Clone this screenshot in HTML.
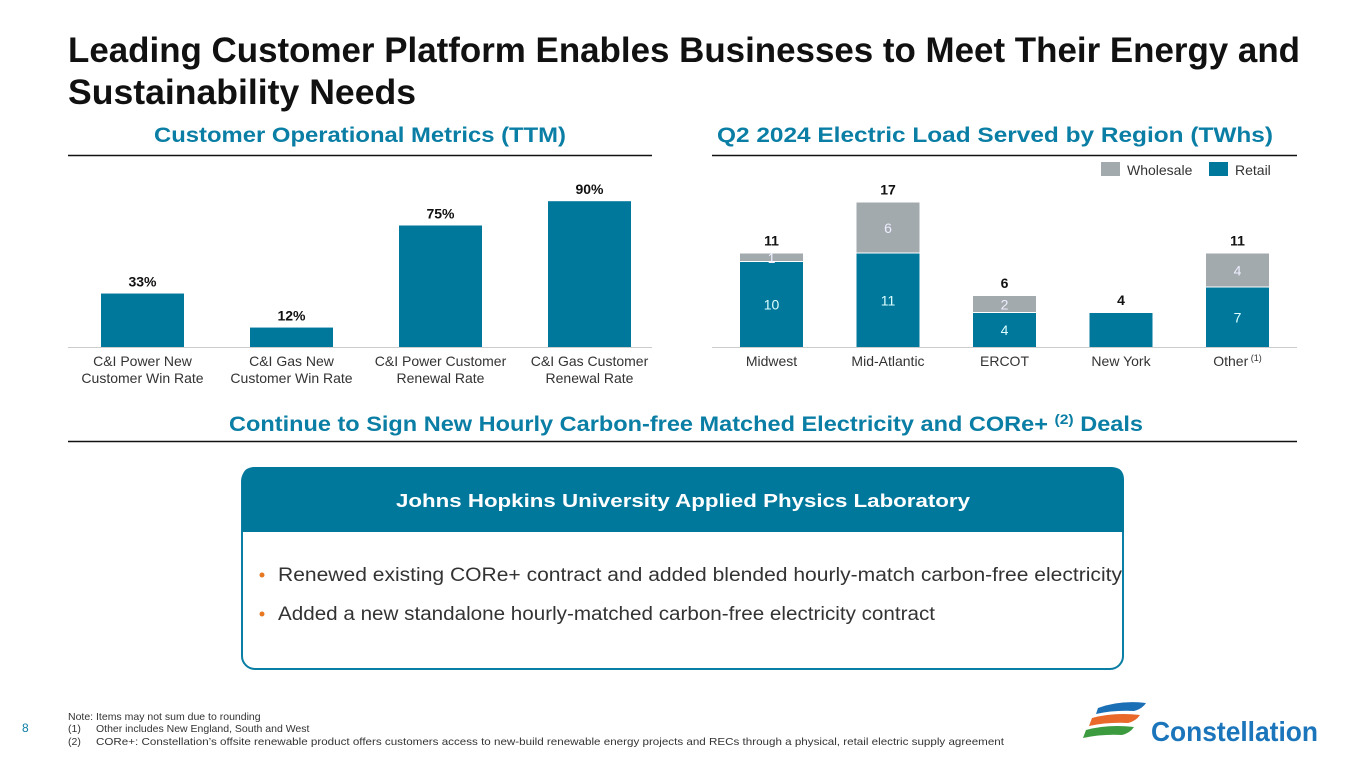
<!DOCTYPE html>
<html><head><meta charset="utf-8"><style>
html,body{margin:0;padding:0;background:#fff;}
svg{display:block;font-family:"Liberation Sans",sans-serif;}
</style></head><body>
<svg id="s" width="1365" height="768" viewBox="0 0 1365 768" xmlns="http://www.w3.org/2000/svg">
<text x="68" y="62" font-size="35" font-weight="bold" fill="#111" textLength="1232" lengthAdjust="spacingAndGlyphs">Leading Customer Platform Enables Businesses to Meet Their Energy and</text>
<text x="68" y="104" font-size="35" font-weight="bold" fill="#111" textLength="348" lengthAdjust="spacingAndGlyphs">Sustainability Needs</text>

<text x="154" y="142" font-size="21" font-weight="bold" fill="#0a7ea4" textLength="412" lengthAdjust="spacingAndGlyphs">Customer Operational Metrics (TTM)</text>
<line x1="68" y1="155.5" x2="652" y2="155.5" stroke="#111" stroke-width="1.5"/>
<text x="717" y="142" font-size="21" font-weight="bold" fill="#0a7ea4" textLength="556" lengthAdjust="spacingAndGlyphs">Q2 2024 Electric Load Served by Region (TWhs)</text>
<line x1="712" y1="155.5" x2="1297" y2="155.5" stroke="#111" stroke-width="1.5"/>

<g id="left"></g>
<g id="right"></g>

<rect x="1101" y="162" width="19" height="14" fill="#a3aaae"/>
<text x="1127" y="175" font-size="14" fill="#333">Wholesale</text>
<rect x="1209" y="162" width="19" height="14" fill="#00789c"/>
<text x="1235" y="175" font-size="14" fill="#333">Retail</text>

<text x="229" y="431" font-size="21" font-weight="bold" fill="#0a7ea4" textLength="914" lengthAdjust="spacingAndGlyphs">Continue to Sign New Hourly Carbon-free Matched Electricity and CORe+ <tspan font-size="14" dy="-7">(2)</tspan><tspan dy="7"> Deals</tspan></text>
<line x1="68" y1="441.5" x2="1297" y2="441.5" stroke="#111" stroke-width="1.5"/>

<g>
<rect x="242" y="468" width="881" height="201" rx="13" fill="#fff" stroke="#0a7ea4" stroke-width="2"/>
<path d="M242,532 L242,480 Q242,467 255,467 L1111,467 Q1124,467 1124,480 L1124,532 Z" fill="#00789c"/>
<text x="683" y="507" font-size="18" font-weight="bold" fill="#fff" text-anchor="middle" textLength="574" lengthAdjust="spacingAndGlyphs">Johns Hopkins University Applied Physics Laboratory</text>
<circle cx="262" cy="575" r="2.5" fill="#e87722"/>
<text x="278" y="581" font-size="19" fill="#333" textLength="844" lengthAdjust="spacingAndGlyphs">Renewed existing CORe+ contract and added blended hourly-match carbon-free electricity</text>
<circle cx="262" cy="614" r="2.5" fill="#e87722"/>
<text x="278" y="620" font-size="19" fill="#333" textLength="657" lengthAdjust="spacingAndGlyphs">Added a new standalone hourly-matched carbon-free electricity contract</text>
</g>

<text x="22" y="732" font-size="12" fill="#0a7ea4">8</text>
<g font-size="10.5" fill="#333">
<text x="68" y="720">Note: Items may not sum due to rounding</text>
<text x="68" y="732">(1)</text>
<text x="96" y="732">Other includes New England, South and West</text>
<text x="68" y="745">(2)</text>
<text x="96" y="745" textLength="908" lengthAdjust="spacingAndGlyphs">CORe+: Constellation’s offsite renewable product offers customers access to new-build renewable energy projects and RECs through a physical, retail electric supply agreement</text>
</g>

<g>
<path d="M1098,708 Q1120,700 1146,703 Q1142,709 1134,711 Q1114,710 1096,714 Z" fill="#1b6fb5"/>
<path d="M1092,718 Q1114,712 1140,715 Q1136,721 1128,723 Q1108,722 1089,726 Z" fill="#e8692a"/>
<path d="M1086,730 Q1108,724 1134,727 Q1130,733 1122,735 Q1102,734 1083,738 Z" fill="#3d9b3f"/>
<text x="1151" y="741" font-size="28" font-weight="bold" fill="#1b75bb" textLength="167" lengthAdjust="spacingAndGlyphs">Constellation</text>
</g>
</svg>
<script>
const leftCats = ["C&I Power New|Customer Win Rate","C&I Gas New|Customer Win Rate","C&I Power Customer|Renewal Rate","C&I Gas Customer|Renewal Rate"];
const leftValues = [33, 12, 75, 90];
const leftLabels = ["33%","12%","75%","90%"];

const regions = ["Midwest","Mid-Atlantic","ERCOT","New York","Other"];
const retail = [10, 11, 4, 4, 7];
const wholesale = [1, 6, 2, 0, 4];
const totals = ["11","17","6","4","11"];

const NS = "http://www.w3.org/2000/svg";
function mk(tag, attrs, parent, txt){const e=document.createElementNS(NS,tag);for(const k in attrs)e.setAttribute(k,attrs[k]);if(txt!==undefined)e.textContent=txt;parent.appendChild(e);return e;}

// left chart
const L = document.getElementById('left');
const lBase = 347, lScale = 1.62, lx0 = 101, lPitch = 149, lW = 83;
const lx = i => lx0 + i*lPitch;
const ly = v => lBase - v*lScale;
leftValues.forEach((v,i)=>{
  const r = mk('rect',{x:lx(i),y:ly(v),width:lW,height:lBase-ly(v),fill:'#00789c'},L);
  
  
  const t = mk('text',{x:lx(i)+lW/2,y:ly(v)-7,'font-size':14,'font-weight':'bold',fill:'#111','text-anchor':'middle'},L,leftLabels[i]);
  
  
  leftCats[i].split('|').forEach((ln,j)=>{
    const c = mk('text',{x:lx(i)+lW/2,y:366+j*17,'font-size':14,fill:'#333','text-anchor':'middle'},L,ln);
    
    
  });
});
const la = mk('line',{x1:68,y1:347.5,x2:652,y2:347.5,stroke:'#ccc','stroke-width':1},L);



// right chart
const R = document.getElementById('right');
const rBase = 347, rScale = 8.5, rx0 = 740, rPitch = 116.5, rW = 63;
const rx = i => rx0 + i*rPitch;
const ry = v => rBase - v*rScale;
regions.forEach((g,i)=>{
  const rr = mk('rect',{x:rx(i),y:ry(retail[i]),width:rW,height:rBase-ry(retail[i]),fill:'#00789c'},R);
  
  
  if(wholesale[i]>0){
    const top = ry(retail[i]+wholesale[i]);
    const wr = mk('rect',{x:rx(i),y:top,width:rW,height:ry(retail[i])-top-1,fill:'#a3aaae'},R);
    
    
    const wl = mk('text',{x:rx(i)+rW/2,y:(top+ry(retail[i]))/2+5,'font-size':14,fill:'#eef','text-anchor':'middle'},R,String(wholesale[i]));
    
    
  }
  if(i!==3){
    const rl = mk('text',{x:rx(i)+rW/2,y:(ry(retail[i])+rBase)/2+5,'font-size':14,fill:'#dff','text-anchor':'middle'},R,String(retail[i]));
    
    
  }
  const tl = mk('text',{x:rx(i)+rW/2,y:ry(retail[i]+wholesale[i])-8,'font-size':14,'font-weight':'bold',fill:'#111','text-anchor':'middle'},R,totals[i]);
  
  
  const cl = mk('text',{x:rx(i)+rW/2,y:366,'font-size':14,fill:'#333','text-anchor':'middle'},R,g);
  
  
  if(g==='Other'){ mk('tspan',{'font-size':9,dy:-5},cl,' (1)'); }
});
const ra = mk('line',{x1:712,y1:347.5,x2:1297,y2:347.5,stroke:'#ccc','stroke-width':1},R);


</script>
</body></html>
